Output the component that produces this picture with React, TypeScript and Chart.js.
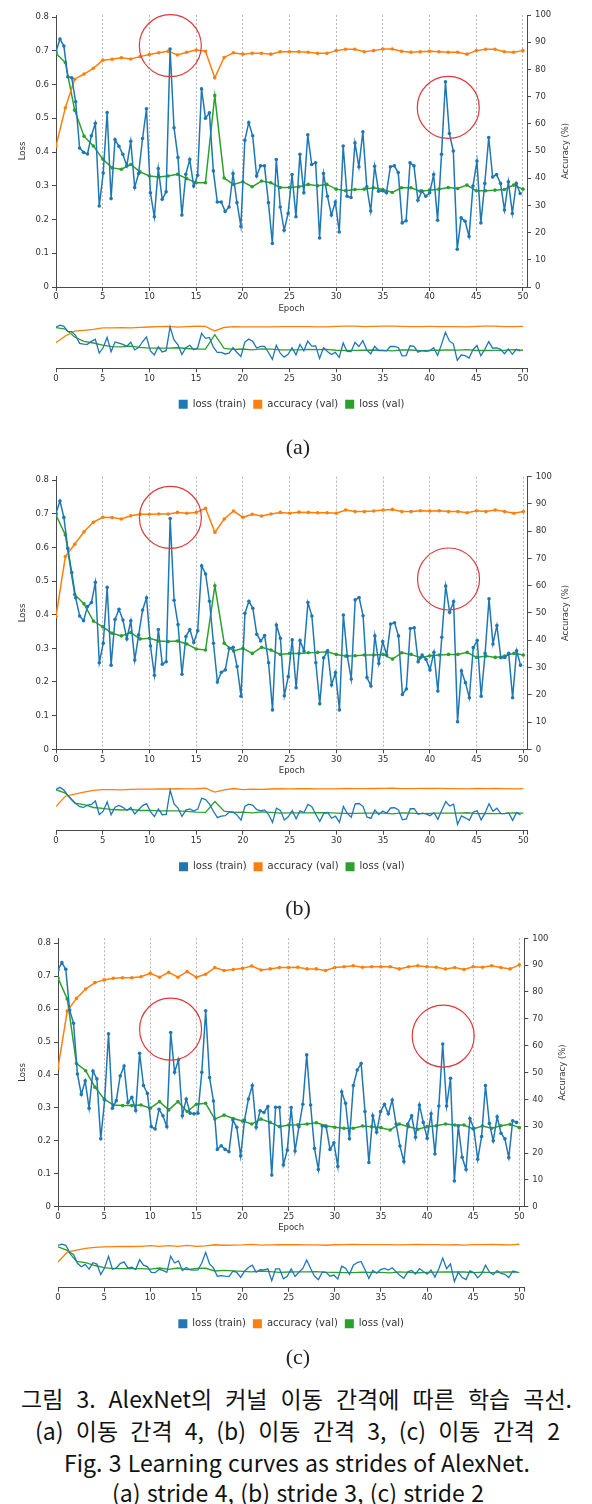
import React, { useEffect, useRef } from 'react';
import { Chart, registerables } from 'chart.js';

Chart.register(...registerables);

// ---------- data ----------
const VAL_EPOCHS = [0, 1, 2, 3, 4, 5, 6, 7, 8, 9, 10, 11, 12, 13, 14, 15, 16, 17, 18, 19, 20, 21, 22, 23, 24, 25, 26, 27, 28, 29, 30, 31, 32, 33, 34, 35, 36, 37, 38, 39, 40, 41, 42, 43, 44, 45, 46, 47, 48, 49, 50];
const TRAIN_STEP = 0.4212; // epochs between logged training-loss points
const X_TICK_STEP = 5;
const LOSS_TICK_STEP = 0.1;
const ACC_TICK_STEP = 10;

const LOSS_TRAIN_A = [
  0.697, 0.735, 0.714, 0.623, 0.62, 0.549, 0.412, 0.399, 0.394, 0.448,
  0.485, 0.24, 0.338, 0.517, 0.262, 0.437, 0.417, 0.393, 0.359, 0.432,
  0.295, 0.336, 0.44, 0.528, 0.279, 0.208, 0.351, 0.26, 0.282, 0.705,
  0.472, 0.384, 0.213, 0.334, 0.378, 0.299, 0.331, 0.587, 0.5, 0.516,
  0.344, 0.252, 0.252, 0.224, 0.237, 0.336, 0.25, 0.18, 0.435, 0.487,
  0.448, 0.329, 0.359, 0.359, 0.25, 0.129, 0.378, 0.237, 0.168, 0.218,
  0.333, 0.208, 0.393,
  0.279, 0.451, 0.363, 0.368, 0.145, 0.336, 0.269, 0.213, 0.252, 0.163,
  0.418, 0.269, 0.265, 0.427, 0.356, 0.46, 0.297, 0.225, 0.358, 0.284,
  0.285, 0.279, 0.356, 0.359, 0.339, 0.19, 0.196, 0.368, 0.359, 0.257,
  0.284, 0.269, 0.279, 0.333, 0.198, 0.393, 0.608, 0.455, 0.403, 0.112,
  0.205, 0.195, 0.15, 0.299, 0.373, 0.19, 0.307, 0.443, 0.326, 0.333,
  0.307, 0.228, 0.312, 0.218, 0.307, 0.277,
];
const ACC_VAL_A = [
  51.8, 65.9, 76.4, 78.3, 80.4, 83.4, 83.7, 84.3, 83.8, 84.7,
  85.5, 86.1, 86.7, 85.3, 86.3, 87.1, 86.7, 76.9, 84.4, 86.1,
  85.6, 85.9, 85.9, 85.6, 86.5, 86.5, 86.5, 86.3, 85.9, 85.9,
  86.9, 87.4, 87.4, 86.5, 86.9, 87.5, 87.5, 86.7, 86.3, 86.5,
  86.7, 86.5, 86.3, 86.3, 85.6, 86.9, 87.4, 87.4, 86.5, 86.3,
  86.9,
];
const LOSS_VAL_A = [
  0.692, 0.665, 0.524, 0.447, 0.418, 0.379, 0.353, 0.349, 0.363, 0.341,
  0.329, 0.326, 0.329, 0.334, 0.321, 0.309, 0.309, 0.567, 0.323, 0.304,
  0.312, 0.297, 0.314, 0.309, 0.295, 0.295, 0.297, 0.304, 0.3, 0.304,
  0.29, 0.285, 0.289, 0.29, 0.294, 0.289, 0.28, 0.294, 0.294, 0.284,
  0.287, 0.29, 0.295, 0.292, 0.302, 0.285, 0.285, 0.287, 0.289, 0.302,
  0.29,
];
const CIRCLE_EPOCHS_A = [12.24, 42.0];
const CIRCLE_LOSS_A = [0.715, 0.532];

const LOSS_TRAIN_B = [
  0.701, 0.738, 0.689, 0.597, 0.525, 0.45, 0.396, 0.382, 0.424, 0.436,
  0.496, 0.257, 0.315, 0.481, 0.25, 0.386, 0.416, 0.384, 0.328, 0.382,
  0.265, 0.34, 0.414, 0.45, 0.307, 0.22, 0.356, 0.253, 0.26, 0.686,
  0.443, 0.371, 0.223, 0.335, 0.356, 0.317, 0.352, 0.545, 0.521, 0.44,
  0.315, 0.2, 0.229, 0.236, 0.3, 0.303, 0.246, 0.158, 0.404, 0.44,
  0.419, 0.342, 0.322, 0.338, 0.257, 0.117, 0.369, 0.33, 0.159, 0.216,
  0.325, 0.183, 0.323,
  0.292, 0.436, 0.396, 0.257, 0.135, 0.272, 0.293, 0.191, 0.228, 0.117,
  0.399, 0.277, 0.209, 0.444, 0.451, 0.397, 0.213, 0.188, 0.337, 0.255,
  0.32, 0.28, 0.372, 0.376, 0.337, 0.163, 0.179, 0.359, 0.361, 0.26,
  0.28, 0.267, 0.236, 0.288, 0.173, 0.333, 0.485, 0.407, 0.439, 0.082,
  0.233, 0.198, 0.153, 0.302, 0.323, 0.158, 0.285, 0.447, 0.313, 0.368,
  0.272, 0.273, 0.285, 0.153, 0.293, 0.25,
];
const ACC_VAL_B = [
  48.7, 70.7, 75.2, 79.8, 83.3, 85.1, 85.0, 84.5, 85.7, 86.2,
  86.2, 86.3, 86.3, 86.9, 86.6, 86.9, 88.4, 79.6, 84.5, 87.4,
  85.1, 86.2, 85.6, 86.3, 86.9, 86.6, 87.0, 86.9, 86.8, 86.8,
  86.6, 87.8, 87.2, 87.2, 87.4, 87.8, 88.0, 87.2, 87.2, 87.5,
  87.4, 87.5, 87.2, 87.2, 86.8, 87.5, 87.2, 87.8, 87.2, 86.6,
  87.2,
];
const LOSS_VAL_B = [
  0.696, 0.637, 0.46, 0.432, 0.381, 0.364, 0.345, 0.337, 0.347, 0.328,
  0.33, 0.322, 0.32, 0.322, 0.313, 0.298, 0.295, 0.486, 0.315, 0.292,
  0.3, 0.285, 0.303, 0.295, 0.282, 0.285, 0.285, 0.287, 0.288, 0.29,
  0.282, 0.277, 0.278, 0.28, 0.28, 0.282, 0.268, 0.287, 0.282, 0.272,
  0.278, 0.28, 0.282, 0.282, 0.288, 0.273, 0.277, 0.273, 0.277, 0.285,
  0.28,
];
const CIRCLE_EPOCHS_B = [12.24, 42.0];
const CIRCLE_LOSS_B = [0.689, 0.506];

const LOSS_TRAIN_C = [
  0.719, 0.741, 0.721, 0.597, 0.557, 0.403, 0.341, 0.382, 0.299, 0.412,
  0.388, 0.206, 0.324, 0.525, 0.299, 0.322, 0.397, 0.427, 0.316, 0.332,
  0.292, 0.466, 0.368, 0.344, 0.243, 0.236, 0.296, 0.276, 0.243, 0.529,
  0.408, 0.446, 0.276, 0.327, 0.284, 0.282, 0.284, 0.408, 0.595, 0.392,
  0.321, 0.174, 0.185, 0.174, 0.167, 0.263, 0.241, 0.154, 0.263, 0.327,
  0.368, 0.241, 0.291, 0.286, 0.304, 0.096, 0.302, 0.302, 0.127, 0.172,
  0.301, 0.169, 0.243,
  0.311, 0.461, 0.309, 0.177, 0.113, 0.245, 0.243, 0.174, 0.194, 0.122,
  0.349, 0.314, 0.206, 0.368, 0.415, 0.435, 0.289, 0.134, 0.276, 0.226,
  0.289, 0.311, 0.282, 0.324, 0.251, 0.184, 0.137, 0.251, 0.276, 0.211,
  0.309, 0.256, 0.208, 0.282, 0.16, 0.306, 0.494, 0.306, 0.39, 0.078,
  0.245, 0.15, 0.113, 0.268, 0.238, 0.144, 0.213, 0.368, 0.253, 0.2,
  0.273, 0.223, 0.206, 0.149, 0.261, 0.256,
];
const ACC_VAL_C = [
  51.6, 72.9, 77.6, 81.1, 83.5, 84.5, 85.1, 85.3, 85.3, 85.7,
  87.0, 85.5, 87.3, 85.5, 87.6, 85.5, 86.6, 89.1, 88.0, 88.4,
  88.8, 89.7, 88.2, 88.6, 89.1, 89.1, 89.2, 88.6, 88.6, 88.0,
  89.1, 89.4, 89.8, 89.2, 89.4, 89.4, 89.4, 88.6, 89.4, 89.8,
  89.4, 89.2, 88.6, 89.1, 88.4, 89.4, 89.2, 89.8, 89.1, 88.6,
  90.1,
];
const LOSS_VAL_C = [
  0.694, 0.631, 0.435, 0.413, 0.363, 0.327, 0.309, 0.307, 0.307, 0.309,
  0.299, 0.319, 0.294, 0.319, 0.289, 0.311, 0.314, 0.266, 0.278, 0.268,
  0.26, 0.251, 0.266, 0.256, 0.243, 0.248, 0.249, 0.251, 0.255, 0.246,
  0.241, 0.238, 0.238, 0.245, 0.243, 0.24, 0.233, 0.251, 0.243, 0.235,
  0.243, 0.246, 0.251, 0.248, 0.248, 0.236, 0.245, 0.238, 0.246, 0.25,
  0.24,
];
const CIRCLE_EPOCHS_C = [12.2, 41.75];
const CIRCLE_LOSS_C = [0.539, 0.518];

const SERIES_LABELS = ['loss (train)', 'accuracy (val)', 'loss (val)'];
const PANEL_LETTERS = ['(a)', '(b)', '(c)'];
const CAPTION_LINES = [
  '그림 3. AlexNet의 커널 이동 간격에 따른 학습 곡선.',
  '(a) 이동 간격 4, (b) 이동 간격 3, (c) 이동 간격 2',
  'Fig. 3 Learning curves as strides of AlexNet.',
  '(a) stride 4, (b) stride 3, (c) stride 2',
];

// ---------- style / layout ----------
const W = 592;
const BLUE = '#1f77b4';
const ORANGE = '#ff7f0e';
const GREEN = '#2ca02c';
const RED = '#e0393c';
const AXIS = '#4a4a4a';
const TEXT = '#333333';
const GRID = '#b4b4b4';
const FONT = 'DejaVu Sans';
const TICK_FONT = { family: FONT, size: 8.5 };
const X_AXIS_H = 30;
const MINI_AXIS_H = 24;
const LEGEND_PAD = 7;
const LEGEND_H = 27;

const PANELS = [
  {
    lossTrain: LOSS_TRAIN_A, accVal: ACC_VAL_A, lossVal: LOSS_VAL_A,
    circleEpochs: CIRCLE_EPOCHS_A, circleLoss: CIRCLE_LOSS_A,
    geo: { mainTop: 15, mainBottom: 287, left: 56, right: 527, xMax: 50.43, lossMax: 0.806, miniTop: 320.3, miniBottom: 368.3, letterY: 447 },
  },
  {
    lossTrain: LOSS_TRAIN_B, accVal: ACC_VAL_B, lossVal: LOSS_VAL_B,
    circleEpochs: CIRCLE_EPOCHS_B, circleLoss: CIRCLE_LOSS_B,
    geo: { mainTop: 476.7, mainBottom: 749.3, left: 56, right: 527.7, xMax: 50.47, lossMax: 0.81, miniTop: 782.7, miniBottom: 830.7, letterY: 908 },
  },
  {
    lossTrain: LOSS_TRAIN_C, accVal: ACC_VAL_C, lossVal: LOSS_VAL_C,
    circleEpochs: CIRCLE_EPOCHS_C, circleLoss: CIRCLE_LOSS_C,
    geo: { mainTop: 938.3, mainBottom: 1206.7, left: 58, right: 524.3, xMax: 50.54, lossMax: 0.815, miniTop: 1239.7, miniBottom: 1287.7, letterY: 1357 },
  },
];

const CAPTION_GEO = [
  { left: 21, right: 572, cy: 1398 },
  { left: 35, right: 560, cy: 1430 },
  { left: 64, right: 530, cy: 1462 },
  { left: 112, right: 484, cy: 1492 },
];

const trainPoints = (vals: number[]) => vals.map((y, i) => ({ x: i * TRAIN_STEP, y }));
const valPoints = (vals: number[]) => vals.map((y, i) => ({ x: VAL_EPOCHS[i], y }));

function makeDatasets(p: any, withPoints: boolean) {
  const common = (color: string) => ({
    borderColor: color,
    backgroundColor: color,
    pointBackgroundColor: color,
    pointBorderColor: color,
    borderWidth: withPoints ? 1.5 : 1.3,
    pointRadius: withPoints ? 1.8 : 0,
    pointBorderWidth: 0,
    tension: 0,
  });
  return [
    { label: SERIES_LABELS[0], data: trainPoints(p.lossTrain), yAxisID: 'yL', ...common(BLUE) },
    { label: SERIES_LABELS[1], data: valPoints(p.accVal), yAxisID: 'yR', ...common(ORANGE) },
    { label: SERIES_LABELS[2], data: valPoints(p.lossVal), yAxisID: 'yL', ...common(GREEN) },
  ];
}

const circlePlugin = {
  id: 'circles',
  afterDatasetsDraw(chart: any, _args: any, opts: any) {
    const { ctx, scales } = chart;
    (opts.epochs || []).forEach((e: number, i: number) => {
      const cx = scales.x.getPixelForValue(e);
      const cy = scales.yL.getPixelForValue(opts.loss[i]);
      ctx.save();
      ctx.beginPath();
      ctx.arc(cx, cy, opts.radius, 0, Math.PI * 2);
      ctx.strokeStyle = RED;
      ctx.lineWidth = 1.2;
      ctx.stroke();
      ctx.restore();
    });
  },
};

const rightTitlePlugin = {
  id: 'rtitle',
  afterDraw(chart: any, _args: any, opts: any) {
    const { ctx, chartArea } = chart;
    ctx.save();
    ctx.translate(chartArea.right + opts.offset, (chartArea.top + chartArea.bottom) / 2);
    ctx.rotate(-Math.PI / 2);
    ctx.textAlign = 'center';
    ctx.textBaseline = 'middle';
    ctx.font = `${TICK_FONT.size}px "${FONT}"`;
    ctx.fillStyle = TEXT;
    ctx.fillText(opts.text, 0, 0);
    ctx.restore();
  },
};

function MainChart({ p }: { p: any }) {
  const ref = useRef<HTMLCanvasElement>(null);
  const g = p.geo;
  const canvasTop = Math.floor(g.mainTop) - 12;
  const H = Math.ceil(g.mainBottom + X_AXIS_H - canvasTop);
  useEffect(() => {
    const padTop = g.mainTop - canvasTop;
    const padBottom = H - X_AXIS_H - (g.mainBottom - canvasTop);
    const chart = new Chart(ref.current as HTMLCanvasElement, {
      type: 'line',
      data: { datasets: makeDatasets(p, true) as any },
      options: {
        responsive: false,
        animation: false,
        events: [],
        layout: { padding: { top: padTop, bottom: padBottom, left: 0, right: 0 } },
        plugins: {
          legend: { display: false },
          tooltip: { enabled: false },
          circles: { epochs: p.circleEpochs, loss: p.circleLoss, radius: 31 },
          rtitle: { text: 'Accuracy (%)', offset: 38.5 },
        } as any,
        scales: {
          x: {
            type: 'linear',
            min: 0,
            max: g.xMax,
            afterFit: (s: any) => { s.height = X_AXIS_H; },
            ticks: { stepSize: X_TICK_STEP, includeBounds: false, autoSkip: false, maxRotation: 0, padding: 1, color: TEXT, font: TICK_FONT },
            grid: {
              drawOnChartArea: true,
              drawTicks: true,
              tickLength: 4,
              tickColor: AXIS,
              lineWidth: 1,
              color: (c: any) => (c.tick && c.tick.value > 0 ? GRID : 'rgba(0,0,0,0)'),
            },
            border: { display: true, color: AXIS, width: 1, dash: [2, 2] },
            title: { display: true, text: 'Epoch', color: TEXT, font: TICK_FONT, padding: { top: 0, bottom: 3.4 } },
          },
          yL: {
            type: 'linear',
            position: 'left',
            min: 0,
            max: g.lossMax,
            afterFit: (s: any) => { s.width = g.left; },
            ticks: { stepSize: LOSS_TICK_STEP, includeBounds: false, padding: 3, color: TEXT, font: TICK_FONT },
            grid: { drawOnChartArea: false, drawTicks: true, tickLength: 4, tickColor: AXIS, color: AXIS },
            border: { display: true, color: AXIS, width: 1 },
            title: { display: true, text: 'Loss', color: TEXT, font: TICK_FONT, padding: { top: 17.5, bottom: 0 } },
          },
          yR: {
            type: 'linear',
            position: 'right',
            min: 0,
            max: 100,
            afterFit: (s: any) => { s.width = W - g.right; },
            ticks: { stepSize: ACC_TICK_STEP, includeBounds: false, padding: 4, color: TEXT, font: TICK_FONT },
            grid: { drawOnChartArea: false, drawTicks: true, tickLength: 4, tickColor: AXIS, color: AXIS },
            border: { display: true, color: AXIS, width: 1 },
          },
        } as any,
      },
      plugins: [circlePlugin, rightTitlePlugin],
    } as any);
    return () => chart.destroy();
  }, []);
  return (
    <canvas
      ref={ref}
      width={W}
      height={H}
      style={{ position: 'absolute', left: 0, top: canvasTop, width: W, height: H }}
    />
  );
}

function MiniChart({ p }: { p: any }) {
  const ref = useRef<HTMLCanvasElement>(null);
  const g = p.geo;
  const canvasTop = Math.floor(g.miniTop) - 6;
  const H = Math.ceil(g.miniBottom + MINI_AXIS_H + LEGEND_H - canvasTop);
  useEffect(() => {
    const padTop = g.miniTop - canvasTop;
    const padBottom = H - (g.miniBottom - canvasTop) - MINI_AXIS_H - LEGEND_H;
    const chart = new Chart(ref.current as HTMLCanvasElement, {
      type: 'line',
      data: { datasets: makeDatasets(p, false) as any },
      options: {
        responsive: false,
        animation: false,
        events: [],
        layout: { padding: { top: padTop, bottom: padBottom, left: g.left, right: W - g.right } },
        plugins: {
          tooltip: { enabled: false },
          legend: {
            display: true,
            position: 'bottom',
            fullSize: false,
            maxHeight: LEGEND_H,
            labels: {
              boxWidth: 9,
              boxHeight: 9,
              padding: LEGEND_PAD,
              color: TEXT,
              font: { family: FONT, size: 10 },
              generateLabels: (chart: any) =>
                (Chart.defaults.plugins.legend.labels as any)
                  .generateLabels(chart)
                  .map((l: any) => ({ ...l, fillStyle: l.strokeStyle, lineWidth: 0 })),
            },
          },
        } as any,
        scales: {
          x: {
            type: 'linear',
            min: 0,
            max: g.xMax,
            afterFit: (s: any) => { s.height = MINI_AXIS_H; },
            afterBuildTicks: (s: any) => { s.ticks.push({ value: s.max }); },
            ticks: {
              stepSize: X_TICK_STEP,
              includeBounds: false,
              autoSkip: false,
              maxRotation: 0,
              padding: 1,
              color: TEXT,
              font: TICK_FONT,
              callback: (v: number) => (Math.abs(v % X_TICK_STEP) < 1e-9 ? String(v) : ''),
            },
            grid: { drawOnChartArea: false, drawTicks: true, tickLength: 4, tickColor: AXIS, color: AXIS },
            border: { display: true, color: AXIS, width: 1 },
          },
          yL: { type: 'linear', display: false, min: -0.03, max: 0.82 },
          yR: { type: 'linear', display: false, min: -4, max: 100 },
        } as any,
      },
    } as any);
    return () => chart.destroy();
  }, []);
  return (
    <canvas
      ref={ref}
      width={W}
      height={H}
      style={{ position: 'absolute', left: 0, top: canvasTop, width: W, height: H }}
    />
  );
}

export default function App() {
  return (
    <div
      style={{
        position: 'absolute',
        left: 0,
        top: 0,
        width: W,
        height: 1504,
        overflow: 'hidden',
        background: '#ffffff',
      }}
    >
      {PANELS.map((p, i) => (
        <React.Fragment key={i}>
          <MainChart p={p} />
          <MiniChart p={p} />
          <div
            style={{
              position: 'absolute',
              left: 0,
              width: W,
              top: p.geo.letterY - 14,
              height: 28,
              lineHeight: '28px',
              textAlign: 'center',
              fontFamily: '"Liberation Serif", serif',
              fontSize: 22,
              color: '#222',
              paddingLeft: 4,
              boxSizing: 'border-box',
            }}
          >
            {PANEL_LETTERS[i]}
          </div>
        </React.Fragment>
      ))}
      {CAPTION_LINES.map((t, i) => {
        const c = CAPTION_GEO[i];
        return (
          <div
            key={'cap' + i}
            style={{
              position: 'absolute',
              left: c.left,
              width: c.right - c.left,
              top: c.cy - 15,
              height: 30,
              lineHeight: '30px',
              fontFamily: '"Noto Sans CJK KR", sans-serif',
              fontSize: 23,
              color: '#111',
              textAlign: 'justify',
              textAlignLast: 'justify' as any,
            }}
          >
            {t}
          </div>
        );
      })}
    </div>
  );
}
